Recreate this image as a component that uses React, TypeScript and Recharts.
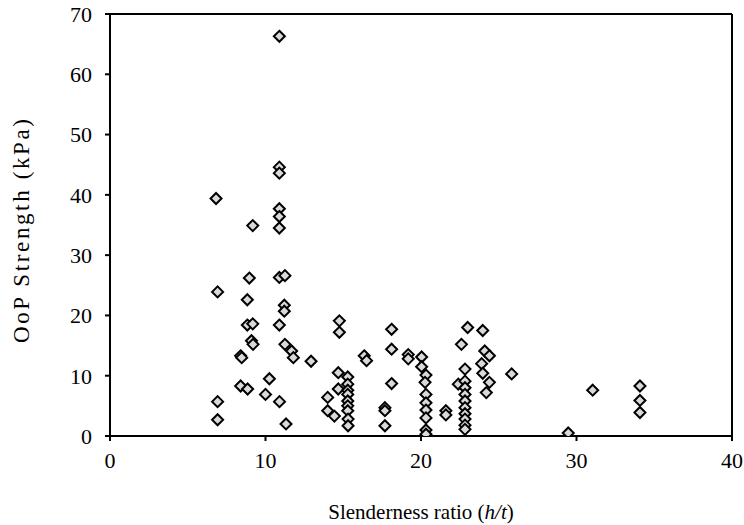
import React from 'react'
import {
  ScatterChart,
  Scatter,
  XAxis,
  YAxis,
  ReferenceLine,
} from 'recharts'

// slenderness ratio h/t of each specimen
const slenderness = [
  6.82, 6.92, 6.92, 6.92, 8.4, 8.47, 8.4, 8.96, 8.83, 8.83, 8.85, 9.18, 9.18, 9.1, 9.2,
  10.0, 10.25, 10.89, 10.89, 10.89, 10.89, 10.89, 10.89, 10.89, 10.89, 10.9,
  11.25, 11.21, 11.21, 11.25, 11.32, 11.68, 11.79, 12.93, 14.0, 14.0, 14.43,
  14.75, 14.75, 14.68, 14.68, 15.29, 15.29, 15.29, 15.29, 15.29, 15.29, 15.29, 15.31, 15.31,
  16.35, 16.5, 17.68, 17.68, 17.68, 18.11, 18.11, 18.11, 19.18, 19.18,
  20.04, 20.04, 20.32, 20.26, 20.32, 20.32, 20.32, 20.32, 20.32, 20.32, 21.6, 21.6,
  22.6, 22.4, 22.83, 22.83, 22.83, 22.83, 22.83, 22.83, 22.83, 22.83, 22.83, 22.83,
  23.0, 23.97, 24.1, 24.4, 23.9, 23.97, 24.4, 24.2, 25.83, 29.47, 31.04, 34.08, 34.08, 34.08,
]

// out-of-plane strength in kPa, same order
const strength = [
  39.4, 23.9, 5.7, 2.7, 13.3, 13.0, 8.3, 26.2, 22.6, 18.4, 7.8, 34.9, 18.6, 15.8, 15.2,
  6.9, 9.5, 66.3, 44.6, 43.6, 37.7, 36.4, 34.5, 26.3, 18.4, 5.7,
  26.6, 21.7, 20.7, 15.2, 2.0, 14.1, 13.0, 12.4, 6.4, 4.2, 3.3,
  19.1, 17.2, 10.5, 7.8, 9.8, 8.6, 7.6, 6.9, 5.8, 5.0, 4.2, 2.8, 1.7,
  13.3, 12.5, 4.7, 4.2, 1.7, 17.7, 14.4, 8.7, 13.5, 12.8,
  13.1, 11.5, 10.1, 8.9, 6.9, 5.5, 4.3, 3.0, 1.0, 0.3, 4.2, 3.5,
  15.2, 8.6, 11.1, 9.1, 8.0, 6.9, 5.8, 4.7, 3.7, 2.8, 1.8, 1.1,
  18.0, 17.5, 14.1, 13.3, 12.0, 10.4, 8.9, 7.2, 10.3, 0.5, 7.6, 8.3, 5.9, 3.9,
]

const xTicks = [0, 10, 20, 30, 40]
const yTicks = [0, 10, 20, 30, 40, 50, 60, 70]

const points = slenderness.map((x, i) => ({ x, y: strength[i] }))

const FONT = "'Liberation Serif', 'Times New Roman', Times, serif"

const Diamond = (props: any) => {
  const { cx, cy } = props
  const r = 5.5
  return (
    <polygon
      points={`${cx},${cy - r} ${cx + r},${cy} ${cx},${cy + r} ${cx - r},${cy}`}
      fill="#d9d9d9"
      stroke="#000"
      strokeWidth={2}
    />
  )
}

const tickStyle = { fill: '#000', fontSize: 22, fontFamily: FONT, style: { fontFamily: FONT } }

export default function App() {
  return (
    <div
      style={{
        position: 'absolute',
        left: 0,
        top: 0,
        width: 744,
        height: 525,
        background: '#fff',
        fontFamily: FONT,
      }}
    >
      <ScatterChart width={744} height={525} margin={{ top: 14, right: 12, bottom: 0, left: 0 }}>
        <XAxis
          type="number"
          dataKey="x"
          domain={[0, 40]}
          ticks={xTicks}
          height={89}
          tick={tickStyle}
          tickSize={5}
          tickMargin={11}
          stroke="#000"
          strokeWidth={2}
          allowDataOverflow
          label={{
            value: 'Slenderness ratio (h/t)',
            content: () => (
              <text
                x={421}
                y={519}
                textAnchor="middle"
                fontSize={21}
                fill="#000"
                style={{ fontFamily: FONT }}
              >
                Slenderness ratio (<tspan fontStyle="italic">h/t</tspan>)
              </text>
            ),
          }}
        />
        <YAxis
          type="number"
          dataKey="y"
          domain={[0, 70]}
          ticks={yTicks}
          width={110}
          tick={tickStyle}
          tickSize={5}
          tickMargin={13}
          stroke="#000"
          strokeWidth={2}
          allowDataOverflow
          label={{
            value: 'OoP Strength (kPa)',
            content: () => (
              <text
                x={0}
                y={0}
                transform="translate(29, 231) rotate(-90)"
                textAnchor="middle"
                fontSize={23}
                textLength={224}
                lengthAdjust="spacing"
                fill="#000"
                style={{ fontFamily: FONT }}
              >
                OoP Strength (kPa)
              </text>
            ),
          }}
        />
        <ReferenceLine y={70} stroke="#000" strokeWidth={2} />
        <ReferenceLine x={40} stroke="#000" strokeWidth={2} />
        <Scatter data={points} shape={Diamond} isAnimationActive={false} />
      </ScatterChart>
    </div>
  )
}
